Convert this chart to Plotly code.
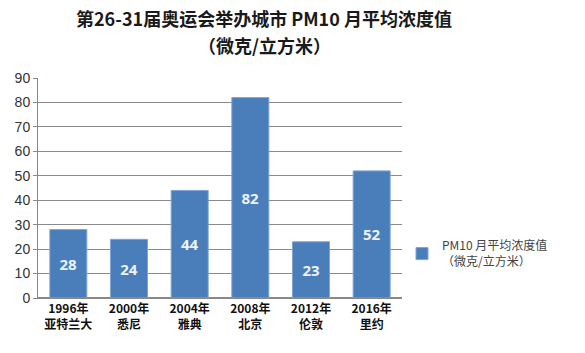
import plotly.graph_objects as go

categories = ["1996年<br>亚特兰大", "2000年<br>悉尼", "2004年<br>雅典", "2008年<br>北京", "2012年<br>伦敦", "2016年<br>里约"]
values = [28, 24, 44, 82, 23, 52]
y_ticks = [0, 10, 20, 30, 40, 50, 60, 70, 80, 90]
series_name = "PM10 月平均浓度值<br>（微克/立方米）"
title_lines = ["第26-31届奥运会举办城市 PM10 月平均浓度值", "（微克/立方米）"]

fig = go.Figure()
fig.add_trace(go.Bar(
    x=categories, y=values, name=series_name,
    marker=dict(color="#4a7ebb", line=dict(color="#7fa4d4", width=1)),
    text=[str(v) for v in values], textposition="inside", insidetextanchor="middle",
    textfont=dict(family="Open Sans, Arial", size=15, color="#eef3fa", weight="bold"),
    showlegend=True,
))

for i, (line, ypix) in enumerate(zip(title_lines, [18, 45])):
    fig.add_annotation(
        text="<b>" + line + "</b>", xref="paper", yref="paper",
        x=(264 - 38) / 364, y=(353 - 55 - ypix) / (353 - 78 - 55) if False else 1 + (78 - ypix) / 220,
        xanchor="center", yanchor="middle", showarrow=False,
        font=dict(family="Noto Sans CJK SC", size=18, color="#1a1a1a"),
    )

fig.update_layout(
    width=585, height=353,
    margin=dict(l=38, r=183, t=78, b=55),
    paper_bgcolor="white", plot_bgcolor="white",
    bargap=0.39,
    showlegend=True,
    legend=dict(x=1.0, y=0.2, xanchor="left", yanchor="middle",
                font=dict(family="Noto Sans CJK SC", size=12, color="#444"),
                itemwidth=30),
    xaxis=dict(tickfont=dict(family="Noto Sans CJK SC", size=12, color="#111", weight="bold"),
               showline=True, linecolor="#888", linewidth=1, ticks="", showgrid=False),
    yaxis=dict(range=[0, 90], tickvals=y_ticks, tickfont=dict(family="Liberation Sans, Arial", size=14, color="#333"),
               showgrid=True, gridcolor="#8a8a8a", gridwidth=1, showline=True, linecolor="#888",
               ticks="outside", ticklen=4, tickcolor="#888", zeroline=True, zerolinecolor="#888"),
)

fig.write_html("out.html")
